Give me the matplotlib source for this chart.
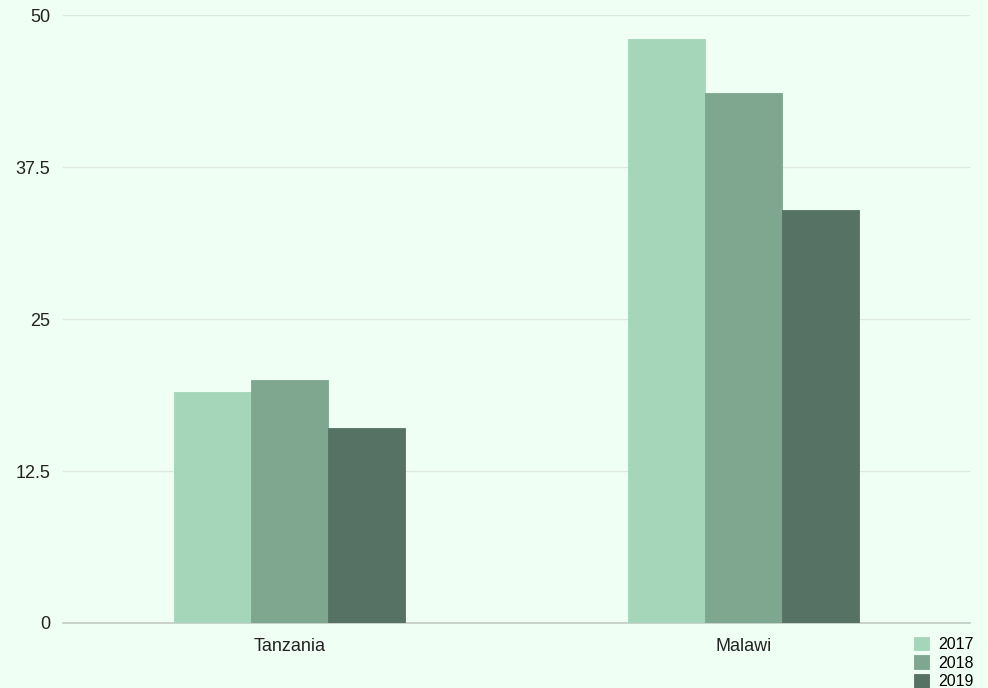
import matplotlib.pyplot as plt
import numpy as np

countries = ["Tanzania", "Malawi"]
years = ["2017", "2018", "2019"]
values_2017 = [19.0, 48.0]
values_2018 = [20.0, 43.6]
values_2019 = [16.0, 34.0]
colors = ["#a5d6b9", "#7fa68f", "#557264"]

bg = "#f0fff4"
plt.rcParams["font.family"] = ["Liberation Sans", "DejaVu Sans"]

fig = plt.figure(figsize=(9.88, 6.88), dpi=100, facecolor=bg)
ax = fig.add_axes([0.0638, 0.0945, 0.918, 0.8835], facecolor=bg)

x = np.arange(len(countries))
width = 0.17
series = [values_2017, values_2018, values_2019]
for i, (vals, year) in enumerate(zip(series, years)):
    ax.bar(x + (i - 1) * width, vals, width, color=colors[i], label=year,
           edgecolor=colors[i], linewidth=0.6, zorder=3)

ax.set_xlim(-0.5, 1.5)
ax.set_ylim(0, 50)
ax.set_yticks([0, 12.5, 25, 37.5, 50])
ax.set_yticklabels(["0", "12.5", "25", "37.5", "50"])
ax.set_xticks(x)
ax.set_xticklabels(countries)

ax.grid(axis="y", color="#dce8e0", linewidth=1, zorder=0)
for s in ["top", "right", "left"]:
    ax.spines[s].set_visible(False)
ax.spines["bottom"].set_color("#bfcbc3")
ax.spines["bottom"].set_linewidth(1.2)
ax.tick_params(axis="y", length=0, pad=9, labelsize=13, labelcolor="#222222")
ax.tick_params(axis="x", length=0, pad=11, labelsize=13, labelcolor="#222222")

fig.legend(loc="lower right", bbox_to_anchor=(0.997, -0.018), frameon=False,
           fontsize=11.5, handlelength=0.95, handleheight=0.95, handletextpad=0.6,
           labelspacing=0.2, borderpad=0.2)

fig.savefig("out.png", dpi=100, facecolor=bg)
